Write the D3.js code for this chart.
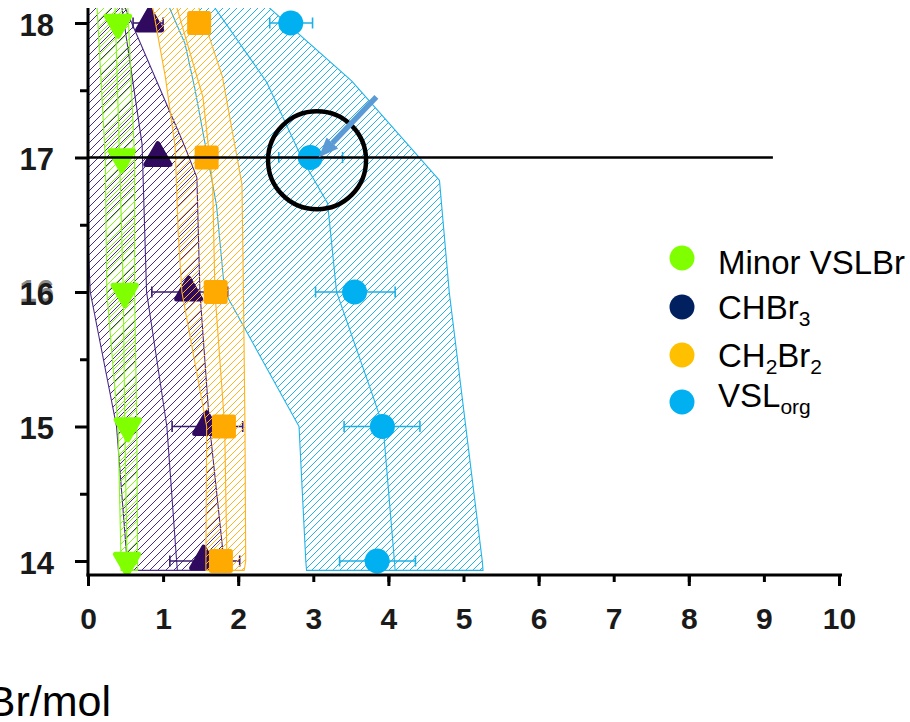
<!DOCTYPE html>
<html>
<head>
<meta charset="utf-8">
<script src="https://cdn.jsdelivr.net/npm/d3@7"></script>
<style>
  html, body { margin: 0; padding: 0; background: #fff; }
  svg { display: block; font-family: "Liberation Sans", Arial, sans-serif; }
</style>
</head>
<body>
<svg id="chart" width="910" height="722"></svg>
<script>
// Altitude levels (km) of the profile points
const altitudes = [18, 17, 16, 15, 14];

// Observed mixing ratios at each altitude
const minorValues  = [0.40, 0.45, 0.49, 0.53, 0.52];
const chbr3Values  = [0.82, 0.93, 1.34, 1.58, 1.54];
const chbr3Low     = [0.60, 0.93, 0.85, 1.12, 1.09];
const chbr3High    = [1.00, 0.93, 1.86, 2.06, 2.02];
const ch2br2Values = [1.48, 1.58, 1.70, 1.81, 1.77];
const vslValues    = [2.70, 2.96, 3.55, 3.92, 3.85];
const vslLow       = [2.42, 2.54, 3.03, 3.41, 3.35];
const vslHigh      = [2.99, 3.39, 4.09, 4.42, 4.36];

// Model range envelopes: [altitude, value] along the low edge, high edge and central profile
const minorBandLow  = [[18.12, 0.12], [17, 0.23], [16, 0.25], [15, 0.40], [14, 0.44], [13.93, 0.44]];
const minorBandHigh = [[18.12, 0.53], [17, 0.62], [16, 0.62], [15, 0.65], [14, 0.66], [13.93, 0.66]];
const minorCentral  = [[18.12, 0.36], [17, 0.42], [16, 0.47], [15, 0.49], [14, 0.52], [13.93, 0.52]];

const chbr3BandLow  = [[18.12, -0.10], [16.5, -0.01], [16, 0.03], [15, 0.38], [14, 0.52], [13.93, 0.53]];
const chbr3BandHigh = [[18.12, 0.49], [17.08, 1.29], [16.85, 1.45], [16, 1.49], [15, 1.62], [14, 1.81], [13.93, 1.82]];
const chbr3Central  = [[18.12, 0.45], [17.1, 0.72], [16, 0.78], [15, 1.05], [14, 1.18], [13.93, 1.19]];

const ch2br2BandLow  = [[18.12, 0.86], [17.6, 1.03], [17.08, 1.16], [16.45, 1.20], [16, 1.25], [15, 1.58], [14, 1.57], [13.93, 1.57]];
const ch2br2BandHigh = [[18.12, 1.47], [17.94, 1.59], [17.6, 1.79], [16.8, 2.05], [16, 2.07], [15, 2.09], [14, 2.10], [13.93, 2.08]];
const ch2br2Central  = [[18.12, 1.18], [17.45, 1.53], [16.8, 1.66], [16, 1.69], [15, 1.82], [14, 1.85], [13.93, 1.85]];

const vslBandLow  = [[18.12, 1.08], [17.85, 1.29], [17.52, 1.42], [17.1, 1.56], [16.65, 1.71], [16, 1.82], [15, 2.81], [14, 2.90], [13.93, 2.91]];
const vslBandHigh = [[18.12, 2.40], [17.57, 3.51], [16.83, 4.68], [16, 4.81], [14, 5.25], [13.93, 5.26]];
const vslCentral  = [[18.12, 1.68], [17.56, 2.38], [16.98, 2.86], [16.66, 3.19], [16, 3.31], [15.2, 3.81], [15, 3.93], [14, 4.08], [13.93, 4.09]];

// Axis ticks
const xTicks = [0, 1, 2, 3, 4, 5, 6, 7, 8, 9, 10];
const xMajorTicks = [0, 2, 4, 6, 8, 10];
const yTicks = [14, 15, 16, 17, 18];
const yMinorTicks = [14.5, 15.5, 16.5, 17.5];

// Reference altitude and highlighted point
const refAltitude = 17;
const refLineEnd = 9.12;
const highlightPoint = [3.05, 16.98];
const arrowFrom = [3.84, 17.45];
const arrowTo = [3.07, 17.0];

// Legend entries
const legendItems = [
  { base: "Minor VSLBr", sub: "", tail: "", color: "#80ff00" },
  { base: "CHBr", sub: "3", tail: "", color: "#002060" },
  { base: "CH", sub: "2", tail: "Br", sub2: "2", color: "#ffc000" },
  { base: "VSL", sub: "org", tail: "", color: "#00b0f0" }
];

const svg = d3.select("#chart");
const plotTop = 8, plotBottom = 575, plotLeft = 88, plotRight = 841;

const x = d3.scaleLinear().domain([0, 10]).range([88, 839]);
const y = d3.scaleLinear().domain([18, 14]).range([23, 561]);

// hatch patterns
const defs = svg.append("defs");
function hatch(id, color, period, width) {
  const p = defs.append("pattern")
    .attr("id", id).attr("patternUnits", "userSpaceOnUse")
    .attr("width", period).attr("height", period);
  p.append("path")
    .attr("d", `M0,${period} L${period},0 M${-period/2},${period/2} L${period/2},${-period/2} M${period/2},${period*1.5} L${period*1.5},${period/2}`)
    .attr("stroke", color).attr("stroke-width", width).attr("fill", "none");
}
hatch("h-minor", "#86f51c", 7, 1);
hatch("h-chbr3", "#4a2a86", 8, 1);
hatch("h-ch2br2", "#ffb21a", 7, 1);
hatch("h-vsl", "#22b3e8", 7, 1);

defs.append("clipPath").attr("id", "plot-clip")
  .append("rect").attr("x", plotLeft).attr("y", plotTop)
  .attr("width", plotRight - plotLeft).attr("height", plotBottom - plotTop);

const edgeLine = d3.line().x(d => x(d[1])).y(d => y(d[0]));

function drawBand(g, low, high, central, pattern, color) {
  const ring = low.concat(high.slice().reverse());
  g.append("path").attr("d", edgeLine(ring) + "Z")
    .attr("fill", `url(#${pattern})`).attr("stroke", color)
    .attr("stroke-width", 1.1).attr("stroke-linejoin", "round");
  g.append("path").attr("d", edgeLine(central))
    .attr("fill", "none").attr("stroke", color).attr("stroke-width", 1.1);
}

function drawErrors(g, vals, lo, hi, color) {
  altitudes.forEach((a, i) => {
    if (lo[i] === hi[i]) return;
    const yy = y(a);
    g.append("line").attr("x1", x(lo[i])).attr("x2", x(hi[i]))
      .attr("y1", yy).attr("y2", yy).attr("stroke", color).attr("stroke-width", 1.6);
    [lo[i], hi[i]].forEach(v => {
      g.append("line").attr("x1", x(v)).attr("x2", x(v))
        .attr("y1", yy - 5.5).attr("y2", yy + 5.5)
        .attr("stroke", color).attr("stroke-width", 1.6);
    });
  });
}

function drawMarkers(g, vals, type, size, color, rotate) {
  const sym = d3.symbol().type(type).size(size);
  g.selectAll(null).data(vals).join("path")
    .attr("d", sym)
    .attr("transform", (d, i) => `translate(${x(d)},${y(altitudes[i])}) rotate(${rotate})`)
    .attr("fill", color).attr("stroke", color)
    .attr("stroke-width", 5).attr("stroke-linejoin", "round");
}

const plot = svg.append("g").attr("clip-path", "url(#plot-clip)");

// envelopes underneath
const bands1 = plot.append("g");
drawBand(bands1, chbr3BandLow, chbr3BandHigh, chbr3Central, "h-chbr3", "#4a2a86");
drawBand(bands1, minorBandLow, minorBandHigh, minorCentral, "h-minor", "#86f51c");
drawBand(bands1, vslBandLow, vslBandHigh, vslCentral, "h-vsl", "#22b3e8");

// CHBr3 points
const chbr3G = plot.append("g");
drawErrors(chbr3G, chbr3Values, chbr3Low, chbr3High, "#3b1d6e");
drawMarkers(chbr3G, chbr3Values, d3.symbolTriangle, 250, "#2f0a5e", 0);

// CH2Br2 envelope drawn over the CHBr3 symbols
drawBand(plot.append("g"), ch2br2BandLow, ch2br2BandHigh, ch2br2Central, "h-ch2br2", "#ffb21a");

// remaining point series
const ptsG = plot.append("g");
drawMarkers(ptsG, minorValues, d3.symbolTriangle, 235, "#80ff00", 180);
drawMarkers(ptsG, ch2br2Values, d3.symbolSquare, 361, "#ffaa00", 0);
drawErrors(ptsG, vslValues, vslLow, vslHigh, "#1cb1e6");
ptsG.selectAll(null).data(vslValues).join("circle")
  .attr("cx", d => x(d)).attr("cy", (d, i) => y(altitudes[i]))
  .attr("r", 12.5).attr("fill", "#00b0f0");

// axes
const xAxisG = svg.append("g").attr("transform", `translate(0,${plotBottom})`);
xAxisG.call(d3.axisBottom(x).tickValues(xTicks).tickSize(7).tickSizeOuter(0).tickFormat(d3.format("d")));
xAxisG.append("g").call(d3.axisBottom(x).tickValues(xMajorTicks).tickSize(11).tickSizeOuter(0).tickFormat(""));
xAxisG.selectAll(".domain").remove();
xAxisG.selectAll(".tick line").attr("stroke", "#000").attr("stroke-width", 3);
xAxisG.selectAll(".tick text")
  .attr("y", 54).attr("dy", null)
  .attr("font-size", 30).attr("font-weight", "bold").attr("fill", "#1a1a1a")
  .attr("font-family", "'Liberation Sans', Arial, sans-serif");

const yAxisG = svg.append("g").attr("transform", `translate(${plotLeft},0)`);
yAxisG.call(d3.axisLeft(y).tickValues(yTicks).tickSize(13).tickSizeOuter(0).tickFormat(d3.format("d")));
yAxisG.append("g").call(d3.axisLeft(y).tickValues(yMinorTicks).tickSize(8).tickSizeOuter(0).tickFormat(""));
yAxisG.selectAll(".domain").remove();
yAxisG.selectAll(".tick line").attr("stroke", "#000").attr("stroke-width", 3);
yAxisG.selectAll(".tick text")
  .attr("x", -34).attr("y", 12).attr("dy", null)
  .attr("font-size", 31).attr("font-weight", "bold").attr("fill", "#1a1a1a")
  .attr("font-family", "'Liberation Sans', Arial, sans-serif");
// faint double print of the 16 label
yAxisG.insert("text", ":first-child")
  .attr("x", -34).attr("y", y(16) + 10).attr("text-anchor", "end")
  .attr("font-size", 31).attr("font-weight", "bold").attr("fill", "#8a8a8a")
  .text("16");

svg.append("line").attr("x1", plotLeft).attr("x2", plotLeft)
  .attr("y1", plotTop).attr("y2", plotBottom + 1.5)
  .attr("stroke", "#000").attr("stroke-width", 3);
svg.append("line").attr("x1", plotLeft - 1.5).attr("x2", plotRight + 1)
  .attr("y1", plotBottom).attr("y2", plotBottom)
  .attr("stroke", "#000").attr("stroke-width", 3);

// reference altitude line
svg.append("line")
  .attr("x1", x(0)).attr("x2", x(refLineEnd))
  .attr("y1", y(refAltitude)).attr("y2", y(refAltitude))
  .attr("stroke", "#000").attr("stroke-width", 2.5);

// highlight ring and pointer
svg.append("circle")
  .attr("cx", x(highlightPoint[0])).attr("cy", y(highlightPoint[1]))
  .attr("r", 49).attr("fill", "none").attr("stroke", "#000").attr("stroke-width", 4.5);

const ax1 = x(arrowFrom[0]), ay1 = y(arrowFrom[1]);
const ax2 = x(arrowTo[0]), ay2 = y(arrowTo[1]);
const ang = Math.atan2(ay2 - ay1, ax2 - ax1);
const headLen = 20, headHalf = 8;
const bx = ax2 - headLen * Math.cos(ang), by = ay2 - headLen * Math.sin(ang);
svg.append("line").attr("x1", ax1).attr("y1", ay1).attr("x2", bx).attr("y2", by)
  .attr("stroke", "#5b9bd5").attr("stroke-width", 5.5);
svg.append("path")
  .attr("d", `M${ax2},${ay2} L${bx + headHalf * Math.sin(ang)},${by - headHalf * Math.cos(ang)} L${bx - headHalf * Math.sin(ang)},${by + headHalf * Math.cos(ang)} Z`)
  .attr("fill", "#5b9bd5");

// legend
const legendY = [258, 307, 355, 402];
const legendBase = [274, 319, 367, 407];
const legend = svg.append("g");
legendItems.forEach((it, i) => {
  legend.append("circle").attr("cx", 682).attr("cy", legendY[i]).attr("r", 12.5).attr("fill", it.color);
  const t = legend.append("text").attr("x", 718).attr("y", legendBase[i])
    .attr("font-size", 33).attr("fill", "#000");
  t.append("tspan").text(it.base);
  if (it.sub) t.append("tspan").attr("font-size", 21).attr("dy", 7).text(it.sub);
  if (it.tail) t.append("tspan").attr("dy", -7).text(it.tail);
  if (it.sub2) t.append("tspan").attr("font-size", 21).attr("dy", 7).text(it.sub2);
});

// unit label
svg.append("text").attr("x", 111).attr("y", 716).attr("text-anchor", "end")
  .attr("font-size", 43).attr("fill", "#000").text("Br/mol");
</script>
</body>
</html>
